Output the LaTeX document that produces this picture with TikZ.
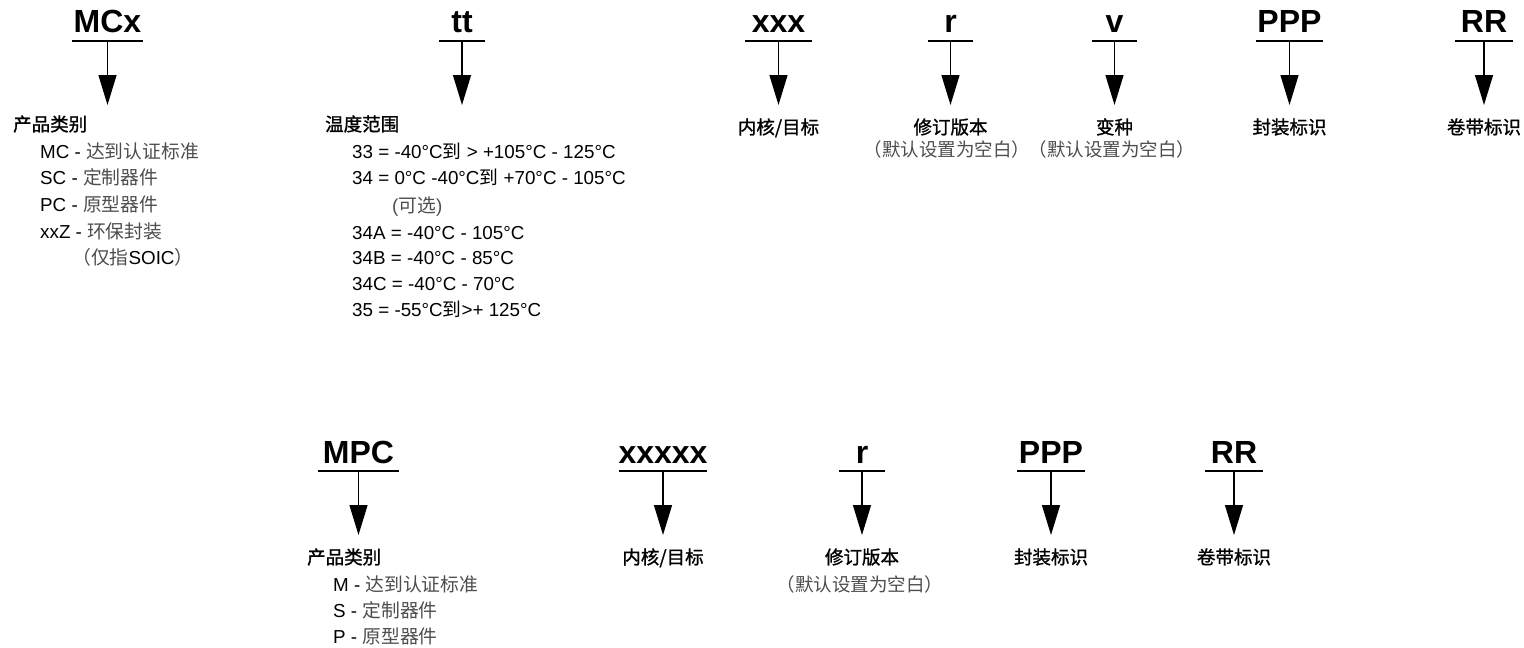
\documentclass[tikz,border=0pt]{standalone}
\usepackage{fontspec}
\setmainfont{Liberation Sans}
\newfontfamily\cjk{Noto Sans CJK SC}
\newfontfamily\cjkm{Noto Sans CJK SC}[FakeBold=1.2]
\usetikzlibrary{arrows.meta}
\definecolor{zhgray}{HTML}{4D4D4D}
\newcommand\zh[1]{{\cjk\color{zhgray}#1}}
\tikzset{
  title/.style={font=\fontsize{32}{32}\selectfont\bfseries, anchor=base, inner sep=0pt},
  bar/.style={line width=1.3pt},
  arr/.style={line width=1.3pt, -{Triangle[length=30pt,width=18pt]}},
  lbl/.style={font=\fontsize{18.5}{20}\selectfont\cjkm, anchor=base, inner sep=0pt},
  head/.style={font=\fontsize{18.5}{20}\selectfont\cjkm, anchor=base west, inner sep=0pt},
  item/.style={font=\fontsize{18.8}{20}\selectfont, anchor=base west, inner sep=0pt},
  note/.style={font=\fontsize{18.5}{20}\selectfont\cjk, text=zhgray, anchor=base, inner sep=0pt},
}
\newcommand\partcol[7]{%
  \node[title] (t#1) at (#2,#3) {#7};
  \coordinate (u#1) at (#2,#4);
  \coordinate (a#1) at (#2,#5);
  \draw[bar] ([xshift=-#6pt]u#1) -- ([xshift=#6pt]u#1);
  \draw[arr] (u#1) -- (a#1);
}
\begin{document}
\begin{tikzpicture}[x=1pt,y=-1pt]
\useasboundingbox (0,0) rectangle (1524,648);
% ---------- top row ----------
\partcol{mcx}{107.5}{32}{41}{105}{35.5}{MCx}
\partcol{tt}{462}{32}{41}{105}{23}{tt}
\partcol{xxx}{778.5}{32}{41}{105}{33.5}{xxx}
\partcol{r}{950.5}{32}{41}{105}{22.5}{r}
\partcol{v}{1114.5}{32}{41}{105}{22.5}{v}
\partcol{ppp}{1289.5}{32}{41}{105}{33.5}{PPP}
\partcol{rr}{1484}{32}{41}{105}{29}{RR}

\node[head] (pc0) at (13,131) {产品类别};
\node[item] (pc1) at (40,158) {MC - \zh{达到认证标准}};
\node[item] (pc2) at (40,184) {SC - \zh{定制器件}};
\node[item] (pc3) at (40,211) {PC - \zh{原型器件}};
\node[item] (pc4) at (40,238) {xxZ - \zh{环保封装}};
\node[item] (pc5) at (72,264) {\zh{（仅指}SOIC\zh{）}};

\node[head] (tr0) at (325,131) {温度范围};
\node[item] (tr1) at (352,158) {33 = -40°C{\cjk 到} > +105°C - 125°C};
\node[item] (tr2) at (352,184) {34 = 0°C -40°C{\cjk 到} +70°C - 105°C};
\node[item] (tr3) at (392,212) {\color{zhgray}(\zh{可选})};
\node[item] (tr4) at (352,239) {34A = -40°C - 105°C};
\node[item] (tr5) at (352,264) {34B = -40°C - 85°C};
\node[item] (tr6) at (352,290) {34C = -40°C - 70°C};
\node[item] (tr7) at (352,316) {35 = -55°C{\cjk 到}>+ 125°C};

\node[lbl] (lxxx) at (778.5,134) {内核/目标};
\node[lbl] (lr) at (950.5,134) {修订版本};
\node[note] (nr) at (947,156) {（默认设置为空白）};
\node[lbl] (lv) at (1114.5,134) {变种};
\node[note] (nv) at (1112,156) {（默认设置为空白）};
\node[lbl] (lppp) at (1289.5,134) {封装标识};
\node[lbl] (lrr) at (1484,134) {卷带标识};

% ---------- bottom row ----------
\partcol{mpc}{358.5}{463}{471}{535}{40.5}{MPC}
\partcol{x5}{663}{463}{471}{535}{44}{xxxxx}
\partcol{rb}{862}{463}{471}{535}{23}{r}
\partcol{pppb}{1051}{463}{471}{535}{34}{PPP}
\partcol{rrb}{1234}{463}{471}{535}{29}{RR}

\node[head] (bp0) at (307,564) {产品类别};
\node[item] (bp1) at (333,591) {M - \zh{达到认证标准}};
\node[item] (bp2) at (333,617) {S - \zh{定制器件}};
\node[item] (bp3) at (333,643) {P - \zh{原型器件}};

\node[lbl] (lx5) at (663,564) {内核/目标};
\node[lbl] (lrb) at (862,564) {修订版本};
\node[note] (nrb) at (860,591) {（默认设置为空白）};
\node[lbl] (lpppb) at (1051,564) {封装标识};
\node[lbl] (lrrb) at (1234,564) {卷带标识};
\end{tikzpicture}
\end{document}
